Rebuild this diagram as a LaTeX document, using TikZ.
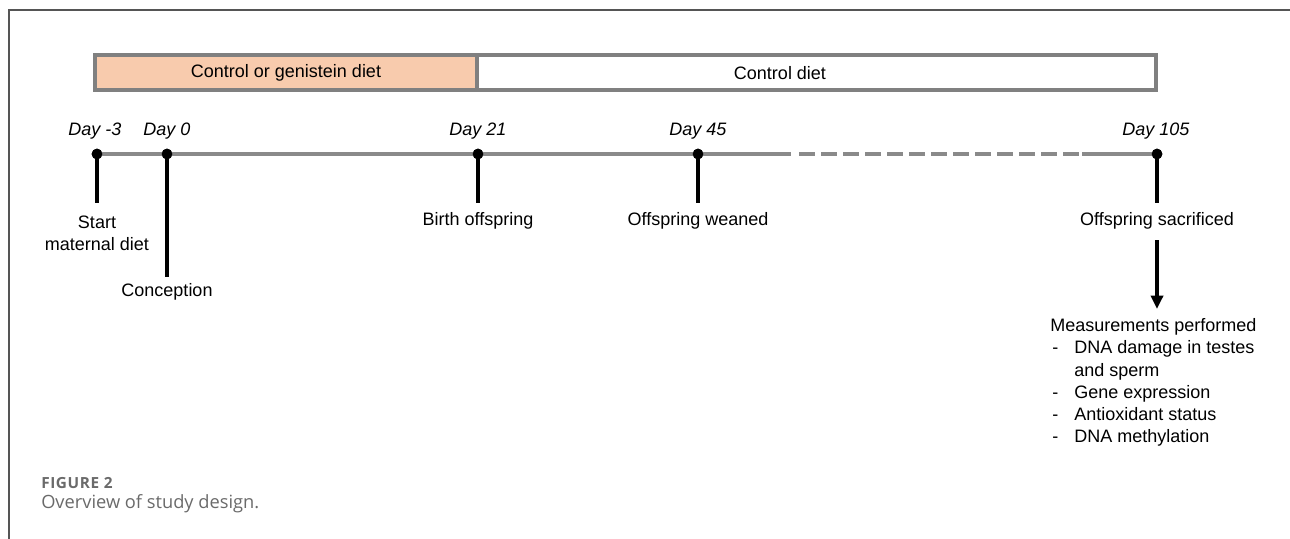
\documentclass[tikz,border=0pt]{standalone}
\usepackage{fontspec}
\setmainfont{Liberation Sans}
\newfontfamily\capfont{Open Sans}
\newfontfamily\capfontsp[LetterSpace=4]{Open Sans}
\usetikzlibrary{arrows.meta}
\definecolor{barorange}{HTML}{F8CBAD}
\definecolor{bargray}{HTML}{808080}
\definecolor{linegray}{HTML}{8A8A8A}
\definecolor{framegray}{HTML}{555555}
\definecolor{capgray}{HTML}{6A6A6A}
\tikzset{
  txt/.style={font=\fontsize{13.5}{16.6}\selectfont, inner sep=0pt},
  daylbl/.style={txt, font=\fontsize{13.5}{16.6}\selectfont\itshape},
  dot/.style={circle, fill=black, inner sep=0pt, minimum size=8pt},
  tick/.style={line width=2.6pt, black},
  tline/.style={line width=3.6pt, linegray},
  barbox/.style={draw=bargray, line width=2.6pt},
  arr/.style={line width=2.6pt, -{Triangle[length=10pt,width=9pt]}},
}
\begin{document}
\begin{tikzpicture}[x=0.75pt,y=-0.75pt]
\useasboundingbox (0,0) rectangle (1290,539);
% frame
\draw[framegray, line width=0.9pt] (9,539) -- (9,10) -- (1290,10);
% diet bar
\draw[barbox, fill=barorange] (95,55) rectangle (477,90);
\draw[barbox, fill=white] (477,55) rectangle (1156,90);
\node[txt] (gen) at (286,73) {Control or genistein diet};
\node[txt] (ctl) at (780,73) {Control diet};
% timeline points
\node[dot] (d3) at (97,154) {};
\node[dot] (d0) at (167,154) {};
\node[dot] (d21) at (478,154) {};
\node[dot] (d45) at (698,154) {};
\node[dot] (d105) at (1157,154) {};
\coordinate (s1) at (791,154);
\coordinate (s2) at (1082,154);
\draw[tline] (d3.center) -- (s1);
\draw[tline, dash pattern=on 12pt off 4.5pt] ([xshift=6pt]s1) -- (s2);
\draw[tline] (s2) -- (d105.center);
% ticks
\coordinate (t3) at (97,203);
\coordinate (t0) at (167,277);
\coordinate (t21) at (478,203);
\coordinate (t45) at (698,203);
\coordinate (t105) at (1157,203);
\draw[tick] (d3.center) -- (t3);
\draw[tick] (d0.center) -- (t0);
\draw[tick] (d21.center) -- (t21);
\draw[tick] (d45.center) -- (t45);
\draw[tick] (d105.center) -- (t105);
% redraw dots on top
\node[dot] at (d3) {};
\node[dot] at (d0) {};
\node[dot] at (d21) {};
\node[dot] at (d45) {};
\node[dot] at (d105) {};
% day labels
\node[daylbl] (l3) at (95,131) {Day -3};
\node[daylbl] (l0) at (167,131) {Day 0};
\node[daylbl] (l21) at (478,131) {Day 21};
\node[daylbl] (l45) at (698,131) {Day 45};
\node[daylbl] (l105) at (1156,131) {Day 105};
% event labels
\node[txt, align=center] (start) at (97,233) {Start\\maternal diet};
\node[txt] (conc) at (167,292) {Conception};
\node[txt] (birth) at (478,221) {Birth offspring};
\node[txt] (wean) at (698,221) {Offspring weaned};
\node[txt] (sac) at (1157,221) {Offspring sacrificed};
% measurements
\node[txt, align=left, anchor=north west] (meas) at (1050,318.5) {Measurements performed\\
\makebox[18pt][l]{\hspace{1.5pt}-}DNA damage in testes\\
\hspace{18pt}and sperm\\
\makebox[18pt][l]{\hspace{1.5pt}-}Gene expression\\
\makebox[18pt][l]{\hspace{1.5pt}-}Antioxidant status\\
\makebox[18pt][l]{\hspace{1.5pt}-}DNA methylation};
\coordinate (a1) at (1157,240);
\coordinate (a2) at (1157,309);
\draw[arr] (a1) -- (a2);
% caption
\node[inner sep=0pt, anchor=west, text=capgray, font=\capfontsp\bfseries\fontsize{11.5}{13}\selectfont] (fig) at (41,483) {FIGURE 2};
\node[inner sep=0pt, anchor=west, text=capgray, font=\capfont\fontsize{13.7}{16}\selectfont] (cap) at (41,504) {Overview of study design.};
\end{tikzpicture}
\end{document}
